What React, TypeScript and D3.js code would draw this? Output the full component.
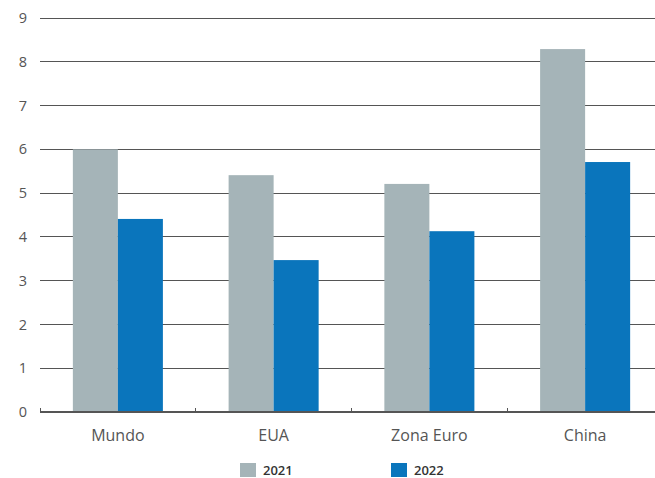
import React from "react";
import * as d3 from "d3";

const categories = ["Mundo", "EUA", "Zona Euro", "China"];
const seriesNames = ["2021", "2022"];
const values2021 = [6.0, 5.41, 5.21, 8.29];
const values2022 = [4.41, 3.47, 4.13, 5.71];
const yTicks = [0, 1, 2, 3, 4, 5, 6, 7, 8, 9];
const colors = ["#a5b4b8", "#0a75bc"];

export default function App() {
  const W = 655, H = 478;
  const left = 40, right = 663, top = 18, bottom = 412;
  const x = d3.scaleBand<string>().domain(categories).range([left, right]).paddingInner(0).paddingOuter(0);
  const y = d3.scaleLinear().domain([0, 9]).range([bottom, top]);
  const inner = d3.scaleBand<string>().domain(seriesNames).range([0, x.bandwidth()]).paddingInner(0).paddingOuter(0.73);
  const series = [values2021, values2022];
  const font = "'Open Sans', 'Noto Sans', sans-serif";
  return (
    <svg width={W} height={H} style={{ position: "absolute", left: 0, top: 0 }}>
      <rect width={W} height={H} fill="#fff" />
      {yTicks.filter(t => t > 0).map(t => (
        <line key={t} x1={left} x2={W} y1={y(t)} y2={y(t)} stroke="#555" strokeWidth={1} shapeRendering="crispEdges" />
      ))}
      {yTicks.map(t => (
        <text key={"l" + t} x={27} y={y(t)} dy="0.35em" textAnchor="end" fontFamily={font} fontSize={14.5} fill="#555">{t}</text>
      ))}
      {categories.map((c, i) => (
        <g key={c}>
          {series.map((s, j) => (
            <rect key={j} x={(x(c) as number) + (inner(seriesNames[j]) as number)} width={inner.bandwidth()} y={y(s[i])} height={bottom - y(s[i])} fill={colors[j]} />
          ))}
          <text x={(x(c) as number) + x.bandwidth() / 2} y={441} textAnchor="middle" fontFamily={font} fontSize={16} fill="#555">{c}</text>
        </g>
      ))}
      <line x1={left} x2={W} y1={bottom} y2={bottom} stroke="#555" strokeWidth={1.2} shapeRendering="crispEdges" />
      {categories.map(c => (
        <line key={"t" + c} x1={x(c) as number} x2={x(c) as number} y1={bottom} y2={bottom - 4} stroke="#555" strokeWidth={1} shapeRendering="crispEdges" />
      ))}
      {seriesNames.map((n, j) => (
        <g key={n} transform={`translate(${240 + j * 151},463)`}>
          <rect width={16} height={14} fill={colors[j]} />
          <text x={23} y={12} fontFamily={font} fontSize={13} fontWeight={600} fill="#333">{n}</text>
        </g>
      ))}
    </svg>
  );
}
